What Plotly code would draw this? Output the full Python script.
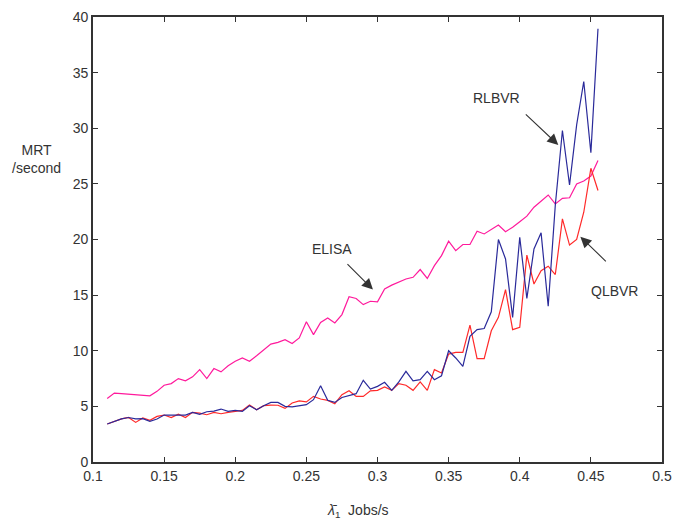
import numpy as np
import plotly.graph_objects as go

# arrival rate (Jobs/s), one sample every 0.005 from 0.11 to 0.455
arrival_rate = np.round(np.arange(0.11, 0.4551, 0.005), 3)

# mean response time (seconds) of each scheduler
elisa = [5.7, 6.2, 6.15, 6.1, 6.1, 6.05, 5.95, 6.35, 6.9, 7.05,
         7.5, 7.3, 7.65, 8.3, 7.5, 8.4, 8.1, 8.65, 9.05, 9.35,
         9.05, 9.55, 10.1, 10.6, 10.75, 11.0, 10.65, 11.15, 12.6, 11.45,
         12.55, 12.95, 12.5, 13.25, 14.85, 14.7, 14.15, 14.45, 14.4, 15.55,
         15.9, 16.2, 16.45, 16.6, 17.3, 16.5, 17.65, 18.55, 19.85, 19.0,
         19.55, 19.55, 20.75, 20.5, 20.9, 21.3, 20.7, 21.1, 21.6, 22.1,
         22.9, 23.45, 24.0, 23.2, 23.7, 23.75, 25.0, 25.25, 25.7, 27.1]

rlbvr = [3.42, 3.65, 3.87, 4.0, 3.87, 3.9, 3.65, 3.87, 4.22, 4.22,
         4.22, 4.22, 4.46, 4.28, 4.52, 4.58, 4.76, 4.55, 4.64, 4.55,
         5.06, 4.7, 5.06, 5.36, 5.36, 5.0, 4.95, 5.05, 5.15, 5.6,
         6.86, 5.54, 5.36, 5.8, 5.96, 6.14, 7.34, 6.56, 6.8, 7.16,
         6.44, 7.2, 8.15, 7.3, 7.4, 8.15, 7.4, 7.75, 10.0, 9.35,
         8.6, 11.3, 11.9, 12.0, 13.5, 20.0, 18.25, 13.0, 20.2, 14.7,
         19.15, 20.6, 14.0, 23.1, 29.8, 24.9, 30.3, 34.2, 27.8, 38.95]

qlbvr = [3.42, 3.65, 3.87, 4.0, 3.56, 3.96, 3.75, 4.1, 4.22, 4.0,
         4.3, 4.0, 4.46, 4.4, 4.25, 4.46, 4.34, 4.46, 4.52, 4.64,
         5.12, 4.7, 5.06, 5.12, 5.1, 4.82, 5.3, 5.5, 5.4, 5.9,
         5.66, 5.54, 5.24, 6.05, 6.4, 5.9, 5.9, 6.4, 6.44, 6.74,
         6.44, 7.04, 6.9, 6.44, 7.2, 6.44, 8.3, 8.0, 9.7, 9.86,
         9.86, 12.3, 9.3, 9.3, 11.8, 13.0, 15.5, 11.9, 12.1, 18.6,
         16.0, 17.2, 17.6, 16.85, 21.85, 19.5, 20.0, 22.45, 26.4, 24.4]

x_ticks = [0.1, 0.15, 0.2, 0.25, 0.3, 0.35, 0.4, 0.45, 0.5]
x_tick_text = ["0.1", "0.15", "0.2", "0.25", "0.3", "0.35", "0.4", "0.45", "0.5"]
y_ticks = [0, 5, 10, 15, 20, 25, 30, 35, 40]

FONT = "Liberation Sans, Arial, sans-serif"
INK = "#333333"

fig = go.Figure()
fig.add_trace(go.Scatter(x=arrival_rate, y=elisa, mode="lines", name="ELISA",
                         line=dict(color="#ff1a9c", width=1.2)))
fig.add_trace(go.Scatter(x=arrival_rate, y=qlbvr, mode="lines", name="QLBVR",
                         line=dict(color="#ff2a2a", width=1.2)))
fig.add_trace(go.Scatter(x=arrival_rate, y=rlbvr, mode="lines", name="RLBVR",
                         line=dict(color="#2a2a9a", width=1.2)))

axis_style = dict(showline=True, linecolor=INK, linewidth=1.6, mirror="ticks",
                  ticks="inside", ticklen=5, tickwidth=1, tickcolor=INK,
                  showgrid=False, zeroline=False, automargin=False,
                  tickfont=dict(family=FONT, size=14, color=INK))

fig.update_xaxes(range=[0.1, 0.5], tickvals=x_ticks, ticktext=x_tick_text,
                 **axis_style)
fig.update_yaxes(range=[0, 40], tickvals=y_ticks, **axis_style)

# curve labels with pointer arrows
labels = [
    # text, text x, text y, arrow tip x, tip y, tail offset (px)
    ("RLBVR", 0.3837, 32.76, 0.4271, 28.5, -34, -32),
    ("ELISA", 0.2681, 19.18, 0.2968, 15.5, -27, -27),
    ("QLBVR", 0.4664, 15.4, 0.4426, 20.25, 27, 26),
]
for text, tx, ty, hx, hy, dx, dy in labels:
    fig.add_annotation(x=tx, y=ty, text=text, showarrow=False,
                       xanchor="center", yanchor="middle",
                       font=dict(family=FONT, size=14, color=INK))
    fig.add_annotation(x=hx, y=hy, text="", showarrow=True, ax=dx, ay=dy,
                       arrowhead=2, arrowsize=2.0, arrowwidth=1.1,
                       arrowcolor=INK, standoff=0)

# axis titles
fig.add_annotation(xref="paper", yref="paper", x=-0.1, y=0.682,
                   xanchor="center", yanchor="middle",
                   text="MRT<br>/second", showarrow=False, align="center",
                   font=dict(family=FONT, size=14, color=INK))
fig.add_annotation(xref="paper", yref="paper", x=0.466, y=-0.085,
                   xanchor="center", yanchor="top",
                   text="<i>λ̄</i><sub>1</sub>  Jobs/s", showarrow=False,
                   font=dict(family=FONT, size=14, color=INK))

fig.update_layout(width=675, height=520, showlegend=False,
                  paper_bgcolor="white", plot_bgcolor="white",
                  margin=dict(l=93, r=13, t=17, b=58, autoexpand=False))

fig.write_html("out.html")
